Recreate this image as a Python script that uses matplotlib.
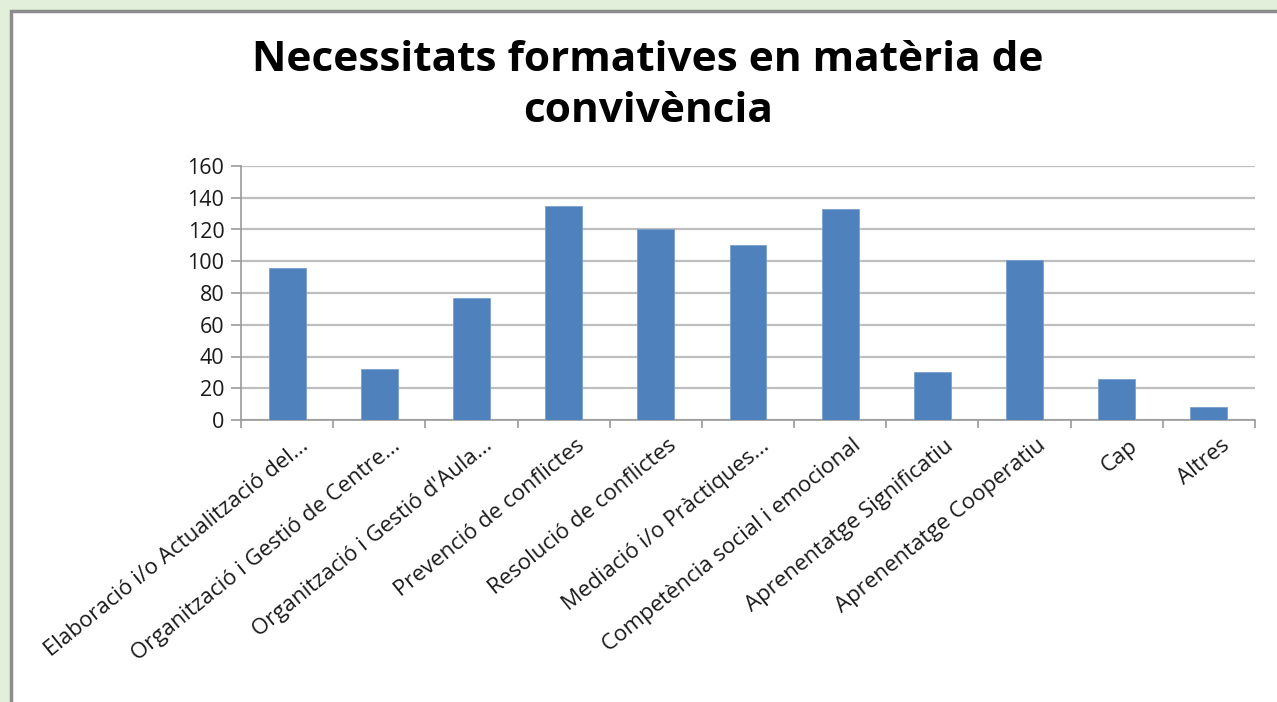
import matplotlib
matplotlib.use("Agg")
import matplotlib.pyplot as plt
import matplotlib.transforms as mtransforms
from matplotlib.patches import Rectangle
import numpy as np

plt.rcParams['font.family'] = ['Open Sans', 'DejaVu Sans']

# data
categories = [
    "Elaboració i/o Actualització del...",
    "Organització i Gestió de Centre...",
    "Organització i Gestió d'Aula...",
    "Prevenció de conflictes",
    "Resolució de conflictes",
    "Mediació i/o Pràctiques...",
    "Competència social i emocional",
    "Aprenentatge Significatiu",
    "Aprenentatge Cooperatiu",
    "Cap",
    "Altres",
]
values = [96, 32, 77, 135, 120, 110, 133, 30, 101, 26, 8]
yticks = [0, 20, 40, 60, 80, 100, 120, 140, 160]
title = "Necessitats formatives en matèria de\nconvivència"

W, H = 1277, 702
fig = plt.figure(figsize=(W / 100, H / 100), dpi=100)
fig.patch.set_facecolor('#E2EFDA')

# white chart box with grey frame on top/left (right/bottom run off the picture)
fig.patches.append(Rectangle((11 / W, -0.1), 1.2, 1.1 - 11 / H, transform=fig.transFigure,
                             facecolor='white', edgecolor='#8C8C8C', linewidth=2.5,
                             zorder=0))

ax = fig.add_axes([241 / W, 1 - 420 / H, (1255 - 241) / W, (420 - 166) / H])
ax.set_zorder(2)
ax.set_facecolor('none')
x = np.arange(len(categories))
ax.bar(x, values, width=0.4, color='#4F81BD', edgecolor='#7BA0CD', linewidth=0.6, zorder=3)

ax.set_xlim(-0.5, len(categories) - 0.5)
ax.set_ylim(0, 160)
ax.set_yticks(yticks)
ax.yaxis.grid(True, color='#BEBEBE', linewidth=1.6, zorder=0)
for s in ['top', 'right']:
    ax.spines[s].set_visible(False)
for s in ['left', 'bottom']:
    ax.spines[s].set_color('#9A9A9A')
    ax.spines[s].set_linewidth(1.2)

ax.tick_params(axis='y', length=7, width=1.2, color='#9A9A9A', labelsize=15.5,
               labelcolor='#1A1A1A', pad=5)
ax.set_xticks(np.arange(-0.5, len(categories), 1.0), minor=True)
ax.set_xticks(x)
ax.tick_params(axis='x', which='minor', length=6, width=1.2, color='#9A9A9A')
ax.tick_params(axis='x', which='major', length=0, pad=11)
ax.set_xticklabels(categories, rotation=39, ha='right', va='top',
                   rotation_mode='anchor', fontsize=16, color='#1A1A1A')
offset = mtransforms.ScaledTranslation(12 / 100, 0, fig.dpi_scale_trans)
for lab in ax.get_xticklabels():
    lab.set_transform(lab.get_transform() + offset)

fig.text(648 / W, 1 - 86 / H, title, ha='center', va='center', fontsize=30.5,
         fontweight='bold', color='black', linespacing=1.3, zorder=3)

fig.savefig('out.png', dpi=100, facecolor=fig.get_facecolor())
